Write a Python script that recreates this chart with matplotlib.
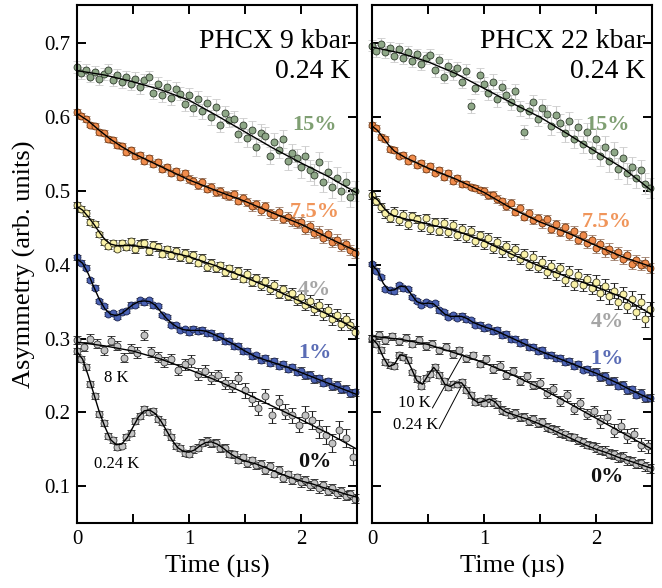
import numpy as np
import matplotlib
matplotlib.use('Agg')
import matplotlib.pyplot as plt

plt.rcParams['font.family'] = ['Liberation Serif', 'DejaVu Serif']
plt.rcParams['mathtext.fontset'] = 'stix'

# ---- data (asymmetry vs time in microseconds) ----
DT = 0.04        # spacing of the dense data sets
DT_HOT = 0.06    # spacing of the 8 K / 10 K data sets
ERR_T = [0.0, 0.5, 1.0, 1.5, 2.0]   # error bar sizes change at these times

# left panel: 9 kbar
l15_data = [0.668, 0.660, 0.664, 0.655, 0.661, 0.652, 0.659, 0.664, 0.650, 0.657,
            0.648, 0.655, 0.645, 0.652, 0.641, 0.650, 0.654, 0.633, 0.645, 0.630,
            0.641, 0.626, 0.638, 0.632, 0.618, 0.630, 0.612, 0.625, 0.608, 0.619,
            0.600, 0.614, 0.590, 0.605, 0.596, 0.598, 0.577, 0.589, 0.572, 0.583,
            0.560, 0.579, 0.575, 0.548, 0.567, 0.556, 0.570, 0.540, 0.551, 0.545,
            0.532, 0.547, 0.528, 0.522, 0.539, 0.512, 0.526, 0.505, 0.518, 0.500,
            0.512, 0.492, 0.500]
l15_fit_t = [0, 0.25, 0.5, 0.75, 1.0, 1.25, 1.5, 1.75, 2.0, 2.25, 2.5]
l15_fit = [0.663, 0.657, 0.648, 0.637, 0.623, 0.602, 0.580, 0.558, 0.538, 0.519, 0.497]
l15_err = [0.008, 0.009, 0.010, 0.012, 0.014]

l75_data = [0.607, 0.602, 0.597, 0.590, 0.588, 0.580, 0.579, 0.570, 0.569, 0.562,
            0.561, 0.553, 0.556, 0.547, 0.549, 0.541, 0.545, 0.536, 0.539, 0.530,
            0.533, 0.524, 0.527, 0.519, 0.525, 0.516, 0.514, 0.508, 0.512, 0.503,
            0.506, 0.498, 0.500, 0.495, 0.493, 0.496, 0.487, 0.491, 0.485, 0.479,
            0.482, 0.474, 0.479, 0.470, 0.467, 0.472, 0.462, 0.465, 0.459, 0.456,
            0.458, 0.448, 0.452, 0.443, 0.445, 0.436, 0.441, 0.431, 0.434, 0.426,
            0.428, 0.420, 0.416]
l75_fit_t = [0, 0.1, 0.2, 0.3, 0.4, 0.5, 0.75, 1.0, 1.25, 1.5, 1.75, 2.0, 2.25, 2.5]
l75_fit = [0.605, 0.595, 0.582, 0.570, 0.560, 0.551, 0.533, 0.515, 0.500, 0.486,
           0.470, 0.455, 0.436, 0.418]
l75_err = [0.004, 0.004, 0.005, 0.006, 0.007]

l4_data = [0.481, 0.476, 0.470, 0.458, 0.455, 0.441, 0.431, 0.425, 0.430, 0.422,
           0.429, 0.424, 0.432, 0.421, 0.428, 0.430, 0.418, 0.427, 0.424, 0.415,
           0.421, 0.413, 0.419, 0.410, 0.416, 0.408, 0.413, 0.403, 0.409, 0.397,
           0.403, 0.395, 0.399, 0.390, 0.395, 0.386, 0.392, 0.381, 0.388, 0.377,
           0.382, 0.372, 0.378, 0.367, 0.373, 0.361, 0.367, 0.358, 0.362, 0.352,
           0.356, 0.346, 0.351, 0.340, 0.345, 0.333, 0.339, 0.326, 0.332, 0.320,
           0.327, 0.319, 0.309]
l4_fit_t = [0, 0.05, 0.1, 0.15, 0.2, 0.25, 0.3, 0.35, 0.4, 0.5, 0.6, 0.75, 1.0,
            1.25, 1.5, 1.75, 2.0, 2.25, 2.5]
l4_fit = [0.479, 0.474, 0.465, 0.455, 0.444, 0.434, 0.428, 0.426, 0.426, 0.426,
          0.424, 0.420, 0.411, 0.398, 0.383, 0.367, 0.350, 0.332, 0.312]
l4_err = [0.004, 0.005, 0.005, 0.006, 0.008]

l1_data = [0.410, 0.403, 0.396, 0.379, 0.369, 0.351, 0.344, 0.333, 0.334, 0.329,
           0.336, 0.337, 0.346, 0.346, 0.352, 0.349, 0.352, 0.345, 0.344, 0.332,
           0.329, 0.319, 0.318, 0.312, 0.313, 0.309, 0.313, 0.310, 0.312, 0.308,
           0.308, 0.302, 0.303, 0.297, 0.297, 0.290, 0.290, 0.283, 0.283, 0.276,
           0.277, 0.271, 0.273, 0.267, 0.269, 0.263, 0.265, 0.259, 0.261, 0.255,
           0.256, 0.250, 0.251, 0.245, 0.246, 0.240, 0.242, 0.235, 0.237, 0.231,
           0.232, 0.226, 0.227]
l1_fit_t = [0, 0.05, 0.1, 0.15, 0.2, 0.25, 0.3, 0.35, 0.4, 0.45, 0.5, 0.55, 0.6,
            0.65, 0.7, 0.75, 0.8, 0.85, 0.9, 0.95, 1.0, 1.05, 1.1, 1.15, 1.2, 1.3,
            1.4, 1.5, 1.6, 1.7, 1.8, 1.9, 2.0, 2.1, 2.2, 2.3, 2.4, 2.5]
l1_fit = [0.408, 0.402, 0.388, 0.370, 0.353, 0.340, 0.333, 0.331, 0.334, 0.340,
          0.346, 0.350, 0.351, 0.350, 0.345, 0.336, 0.327, 0.320, 0.315, 0.312,
          0.311, 0.311, 0.311, 0.310, 0.307, 0.300, 0.292, 0.283, 0.275, 0.270,
          0.265, 0.260, 0.254, 0.248, 0.242, 0.236, 0.230, 0.224]
l1_err = [0.003, 0.003, 0.004, 0.004, 0.005]

l8k_data = [0.298, 0.289, 0.300, 0.293, 0.284, 0.297, 0.290, 0.274, 0.286, 0.281,
            0.305, 0.282, 0.275, 0.268, 0.272, 0.258, 0.265, 0.270, 0.252, 0.256,
            0.247, 0.250, 0.240, 0.236, 0.246, 0.230, 0.218, 0.206, 0.222, 0.196,
            0.214, 0.201, 0.196, 0.183, 0.197, 0.190, 0.177, 0.169, 0.158, 0.176,
            0.165, 0.140]
l8k_fit_t = [0, 0.25, 0.5, 0.75, 1.0, 1.25, 1.5, 1.75, 2.0, 2.25, 2.5]
l8k_fit = [0.295, 0.290, 0.283, 0.272, 0.258, 0.243, 0.226, 0.208, 0.190, 0.171, 0.150]
l8k_err = [0.006, 0.007, 0.008, 0.010, 0.012]

l0_data = [0.283, 0.272, 0.261, 0.238, 0.222, 0.198, 0.186, 0.168, 0.162, 0.153,
           0.155, 0.166, 0.172, 0.188, 0.195, 0.205, 0.201, 0.202, 0.191, 0.187,
           0.173, 0.167, 0.154, 0.152, 0.145, 0.144, 0.150, 0.152, 0.159, 0.161,
           0.158, 0.159, 0.151, 0.152, 0.144, 0.143, 0.136, 0.139, 0.131, 0.135,
           0.128, 0.130, 0.122, 0.127, 0.117, 0.122, 0.111, 0.116, 0.108, 0.112,
           0.105, 0.108, 0.101, 0.104, 0.097, 0.101, 0.094, 0.097, 0.090, 0.093,
           0.087, 0.089, 0.083]
l0_fit_t = [0, 0.05, 0.1, 0.15, 0.2, 0.25, 0.3, 0.35, 0.4, 0.45, 0.5, 0.55, 0.6,
            0.65, 0.7, 0.75, 0.8, 0.85, 0.9, 0.95, 1.0, 1.05, 1.1, 1.15, 1.2, 1.25,
            1.3, 1.35, 1.4, 1.45, 1.5, 1.6, 1.7, 1.8, 1.9, 2.0, 2.1, 2.2, 2.3, 2.4, 2.5]
l0_fit = [0.282, 0.272, 0.250, 0.225, 0.200, 0.180, 0.163, 0.156, 0.157, 0.166,
          0.180, 0.194, 0.202, 0.203, 0.198, 0.188, 0.175, 0.162, 0.152, 0.147,
          0.146, 0.149, 0.155, 0.159, 0.160, 0.157, 0.152, 0.146, 0.141, 0.137,
          0.134, 0.130, 0.124, 0.118, 0.112, 0.107, 0.103, 0.098, 0.094, 0.089, 0.085]
l0_err = [0.004, 0.004, 0.005, 0.005, 0.006]

# right panel: 22 kbar
r15_data = [0.697, 0.690, 0.699, 0.688, 0.694, 0.683, 0.692, 0.680, 0.688, 0.676,
            0.685, 0.672, 0.680, 0.684, 0.664, 0.677, 0.655, 0.670, 0.660, 0.666,
            0.648, 0.663, 0.615, 0.640, 0.657, 0.645, 0.633, 0.648, 0.624, 0.641,
            0.630, 0.620, 0.635, 0.612, 0.580, 0.609, 0.620, 0.598, 0.613, 0.604,
            0.588, 0.603, 0.592, 0.578, 0.595, 0.570, 0.586, 0.563, 0.580, 0.555,
            0.571, 0.548, 0.560, 0.540, 0.553, 0.530, 0.545, 0.524, 0.532, 0.518,
            0.528, 0.510, 0.504]
r15_fit_t = [0, 0.25, 0.5, 0.75, 1.0, 1.25, 1.5, 1.75, 2.0, 2.25, 2.5]
r15_fit = [0.695, 0.687, 0.675, 0.659, 0.639, 0.619, 0.600, 0.577, 0.553, 0.530, 0.500]
r15_err = [0.008, 0.009, 0.010, 0.012, 0.014]

r75_data = [0.590, 0.585, 0.573, 0.570, 0.557, 0.556, 0.548, 0.549, 0.541, 0.544,
            0.535, 0.538, 0.530, 0.534, 0.525, 0.529, 0.519, 0.524, 0.514, 0.518,
            0.509, 0.510, 0.506, 0.504, 0.501, 0.500, 0.494, 0.495, 0.489, 0.486,
            0.479, 0.484, 0.472, 0.477, 0.465, 0.470, 0.460, 0.464, 0.456, 0.462,
            0.449, 0.455, 0.445, 0.451, 0.440, 0.446, 0.434, 0.440, 0.429, 0.434,
            0.423, 0.428, 0.418, 0.422, 0.413, 0.417, 0.408, 0.413, 0.401, 0.406,
            0.400, 0.403, 0.396]
r75_fit_t = [0, 0.05, 0.1, 0.15, 0.2, 0.3, 0.4, 0.5, 0.75, 1.0, 1.25, 1.5, 1.75,
             2.0, 2.25, 2.5]
r75_fit = [0.588, 0.582, 0.572, 0.562, 0.554, 0.545, 0.538, 0.531, 0.516, 0.498,
           0.476, 0.458, 0.443, 0.426, 0.410, 0.397]
r75_err = [0.004, 0.004, 0.005, 0.006, 0.007]

r4_data = [0.495, 0.487, 0.478, 0.470, 0.464, 0.472, 0.460, 0.468, 0.455, 0.466,
           0.462, 0.452, 0.463, 0.448, 0.458, 0.446, 0.457, 0.444, 0.454, 0.440,
           0.449, 0.437, 0.446, 0.432, 0.440, 0.428, 0.436, 0.423, 0.431, 0.418,
           0.425, 0.414, 0.421, 0.408, 0.415, 0.400, 0.411, 0.397, 0.404, 0.390,
           0.398, 0.387, 0.395, 0.379, 0.390, 0.374, 0.386, 0.372, 0.380, 0.368,
           0.376, 0.362, 0.371, 0.357, 0.365, 0.350, 0.360, 0.344, 0.354, 0.336,
           0.350, 0.326, 0.340]
r4_fit_t = [0, 0.05, 0.1, 0.15, 0.2, 0.3, 0.4, 0.5, 0.75, 1.0, 1.25, 1.5, 1.75,
            2.0, 2.25, 2.5]
r4_fit = [0.493, 0.488, 0.478, 0.470, 0.466, 0.462, 0.459, 0.455, 0.446, 0.432,
          0.414, 0.398, 0.383, 0.370, 0.355, 0.332]
r4_err = [0.006, 0.006, 0.007, 0.008, 0.010]

r1_data = [0.401, 0.392, 0.383, 0.367, 0.366, 0.364, 0.372, 0.368, 0.367, 0.356,
           0.351, 0.346, 0.349, 0.347, 0.348, 0.338, 0.336, 0.329, 0.332, 0.328,
           0.331, 0.326, 0.325, 0.318, 0.319, 0.314, 0.315, 0.310, 0.311, 0.305,
           0.306, 0.299, 0.300, 0.294, 0.295, 0.288, 0.289, 0.283, 0.284, 0.277,
           0.278, 0.273, 0.274, 0.268, 0.270, 0.263, 0.265, 0.258, 0.259, 0.254,
           0.255, 0.248, 0.249, 0.242, 0.243, 0.236, 0.237, 0.230, 0.231, 0.224,
           0.226, 0.219, 0.220]
r1_fit_t = [0, 0.05, 0.1, 0.15, 0.2, 0.25, 0.3, 0.35, 0.4, 0.45, 0.5, 0.55, 0.6,
            0.65, 0.7, 0.75, 0.8, 0.85, 0.9, 1.0, 1.1, 1.2, 1.3, 1.4, 1.5, 1.6,
            1.7, 1.8, 1.9, 2.0, 2.1, 2.2, 2.3, 2.4, 2.5]
r1_fit = [0.400, 0.392, 0.375, 0.365, 0.366, 0.371, 0.370, 0.360, 0.350, 0.347,
          0.348, 0.347, 0.340, 0.333, 0.330, 0.330, 0.330, 0.327, 0.322, 0.316,
          0.311, 0.304, 0.297, 0.290, 0.283, 0.277, 0.271, 0.265, 0.259, 0.253,
          0.246, 0.239, 0.231, 0.224, 0.217]
r1_err = [0.003, 0.003, 0.004, 0.004, 0.005]

r10k_data = [0.300, 0.305, 0.298, 0.303, 0.296, 0.301, 0.293, 0.298, 0.290, 0.293,
             0.284, 0.289, 0.279, 0.284, 0.273, 0.277, 0.266, 0.272, 0.259, 0.263,
             0.251, 0.256, 0.243, 0.249, 0.237, 0.240, 0.226, 0.232, 0.215, 0.223,
             0.205, 0.213, 0.198, 0.202, 0.188, 0.194, 0.175, 0.182, 0.168, 0.170,
             0.156, 0.154]
r10k_fit_t = [0, 0.25, 0.5, 0.75, 1.0, 1.25, 1.5, 1.75, 2.0, 2.25, 2.5]
r10k_fit = [0.303, 0.299, 0.292, 0.280, 0.267, 0.251, 0.233, 0.213, 0.192, 0.171, 0.150]
r10k_err = [0.005, 0.005, 0.006, 0.007, 0.009]

r0_data = [0.301, 0.292, 0.284, 0.268, 0.264, 0.263, 0.278, 0.275, 0.271, 0.254,
           0.245, 0.236, 0.247, 0.252, 0.261, 0.250, 0.243, 0.234, 0.239, 0.238,
           0.241, 0.230, 0.224, 0.214, 0.215, 0.213, 0.219, 0.214, 0.211, 0.203,
           0.201, 0.197, 0.199, 0.193, 0.194, 0.188, 0.191, 0.185, 0.187, 0.180,
           0.178, 0.176, 0.172, 0.170, 0.167, 0.166, 0.162, 0.160, 0.156, 0.155,
           0.152, 0.149, 0.148, 0.144, 0.143, 0.139, 0.140, 0.135, 0.134, 0.130,
           0.131, 0.127, 0.124]
r0_fit_t = [0, 0.05, 0.1, 0.15, 0.2, 0.25, 0.3, 0.35, 0.4, 0.45, 0.5, 0.55, 0.6,
            0.65, 0.7, 0.75, 0.8, 0.85, 0.9, 0.95, 1.0, 1.05, 1.1, 1.15, 1.2, 1.3,
            1.4, 1.5, 1.6, 1.7, 1.8, 1.9, 2.0, 2.1, 2.2, 2.3, 2.4, 2.5]
r0_fit = [0.300, 0.292, 0.275, 0.262, 0.265, 0.278, 0.276, 0.260, 0.243, 0.238,
          0.250, 0.261, 0.252, 0.238, 0.235, 0.240, 0.240, 0.230, 0.218, 0.213,
          0.215, 0.218, 0.214, 0.205, 0.200, 0.195, 0.190, 0.184, 0.177, 0.170,
          0.163, 0.156, 0.150, 0.145, 0.139, 0.134, 0.129, 0.124]
r0_err = [0.004, 0.004, 0.005, 0.005, 0.006]

# ---- styles ----
GREEN = dict(face='#8fa888', edge='#2e3a2b', ecolor='#cccccc')
ORANGE = dict(face='#f08c4c', edge='#6e3510', ecolor='#9a7a66')
YELLOW = dict(face='#faf2a8', edge='#3a3820', ecolor='#1a1a1a')
BLUE = dict(face='#4b63b5', edge='#1b2450', ecolor='#2a2a2a')
GRAY = dict(face='#c3c3c3', edge='#333333', ecolor='#1a1a1a')


def draw_series(ax, data, dt, err, fit_t, fit, style):
    data = np.asarray(data)
    t = np.arange(len(data)) * dt
    idx = np.minimum(np.searchsorted(ERR_T, t, side='right') - 1, len(err) - 1)
    yerr = np.asarray(err)[idx]
    ax.errorbar(t, data, yerr=yerr, fmt='o', ms=5.0, mfc=style['face'],
                mec=style['edge'], mew=0.6, ecolor=style['ecolor'],
                elinewidth=0.8, capsize=2.6, capthick=0.8, zorder=2,
                clip_on=False)
    ax.plot(fit_t, fit, color='black', lw=1.0, zorder=3)


fig = plt.figure(figsize=(6.62, 5.88), dpi=100)
ax_l = fig.add_axes([77 / 662, 65 / 588, 280 / 662, 518 / 588])
ax_r = fig.add_axes([372 / 662, 65 / 588, 280 / 662, 518 / 588])

draw_series(ax_l, l15_data, DT, l15_err, l15_fit_t, l15_fit, GREEN)
draw_series(ax_l, l75_data, DT, l75_err, l75_fit_t, l75_fit, ORANGE)
draw_series(ax_l, l4_data, DT, l4_err, l4_fit_t, l4_fit, YELLOW)
draw_series(ax_l, l1_data, DT, l1_err, l1_fit_t, l1_fit, BLUE)
draw_series(ax_l, l8k_data, DT_HOT, l8k_err, l8k_fit_t, l8k_fit, GRAY)
draw_series(ax_l, l0_data, DT, l0_err, l0_fit_t, l0_fit, GRAY)

draw_series(ax_r, r15_data, DT, r15_err, r15_fit_t, r15_fit, GREEN)
draw_series(ax_r, r75_data, DT, r75_err, r75_fit_t, r75_fit, ORANGE)
draw_series(ax_r, r4_data, DT, r4_err, r4_fit_t, r4_fit, YELLOW)
draw_series(ax_r, r1_data, DT, r1_err, r1_fit_t, r1_fit, BLUE)
draw_series(ax_r, r10k_data, DT_HOT, r10k_err, r10k_fit_t, r10k_fit, GRAY)
draw_series(ax_r, r0_data, DT, r0_err, r0_fit_t, r0_fit, GRAY)

for ax in (ax_l, ax_r):
    ax.set_xlim(0, 2.5)
    ax.set_ylim(0.05, 0.752)
    ax.set_xticks([0, 0.5, 1, 1.5, 2])
    ax.set_xticklabels(['0', '', '1', '', '2'])
    ax.set_yticks([0.1, 0.2, 0.3, 0.4, 0.5, 0.6, 0.7])
    ax.tick_params(direction='in', length=6.5, width=1.4, top=True, right=True,
                   labelsize=15, pad=5)
    for s in ax.spines.values():
        s.set_linewidth(1.5)
    ax.set_xlabel('Time (\u00b5s)', fontsize=19, labelpad=4)

ax_l.set_yticklabels(['0.1', '0.2', '0.3', '0.4', '0.5', '0.6', '0.7'])
ax_r.set_yticklabels([])
ax_l.set_ylabel('Asymmetry (arb. units)', fontsize=19, labelpad=6)

# headers
ax_l.text(0.975, 0.929, 'PHCX 9 kbar', transform=ax_l.transAxes, ha='right',
          va='center', fontsize=20)
ax_l.text(0.975, 0.871, '0.24 K', transform=ax_l.transAxes, ha='right',
          va='center', fontsize=20)
ax_r.text(0.975, 0.929, 'PHCX 22 kbar', transform=ax_r.transAxes, ha='right',
          va='center', fontsize=20)
ax_r.text(0.975, 0.871, '0.24 K', transform=ax_r.transAxes, ha='right',
          va='center', fontsize=20)

# concentration labels
pct = ['15%', '7.5%', '4%', '1%', '0%']
pct_colors = ['#7f9f72', '#f0955a', '#a5a5a5', '#5a6cb5', '#111111']
l_pct_y = [0.589, 0.472, 0.366, 0.280, 0.132]
r_pct_y = [0.589, 0.458, 0.323, 0.272, 0.112]
for lab, c, yl, yr in zip(pct, pct_colors, l_pct_y, r_pct_y):
    ax_l.text(2.12, yl, lab, color=c, fontsize=16, fontweight='bold',
              ha='center', va='center')
    ax_r.text(2.1, yr, lab, color=c, fontsize=16, fontweight='bold',
              ha='center', va='center')

# temperature labels
ax_l.text(0.35, 0.247, '8 K', fontsize=12, ha='center', va='center')
ax_l.text(0.35, 0.130, '0.24 K', fontsize=12, ha='center', va='center')
ax_r.text(0.53, 0.212, '10 K', fontsize=12, ha='right', va='center')
ax_r.text(0.59, 0.183, '0.24 K', fontsize=12, ha='right', va='center')
ax_r.plot([0.54, 0.80], [0.206, 0.276], color='black', lw=0.7)
ax_r.plot([0.60, 0.80], [0.178, 0.236], color='black', lw=0.7)

fig.savefig('out.png', dpi=100)
